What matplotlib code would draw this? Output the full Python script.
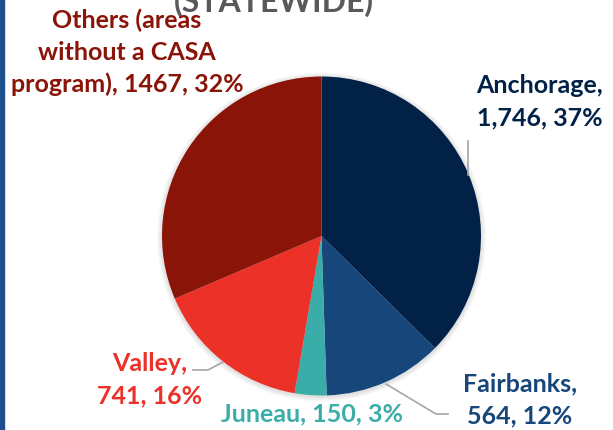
import matplotlib.pyplot as plt
from matplotlib.patches import Rectangle, Circle

# data
regions = ['Anchorage', 'Fairbanks', 'Juneau', 'Valley', 'Others']
counts = [1746, 564, 150, 741, 1467]
labels = ['Anchorage,\n1,746, 37%', 'Fairbanks,\n564, 12%', 'Juneau, 150, 3%',
          'Valley,\n741, 16%', 'Others (areas\nwithout a CASA\nprogram), 1467, 32%']
colors = ['#012147', '#17467B', '#3AADA8', '#EB3128', '#8A1408']

W, H = 613, 430
fig = plt.figure(figsize=(W / 100, H / 100), dpi=100)
ax = fig.add_axes([0, 0, 1, 1])

cx, cy, r = 321.5, H - 236, 159.5

# soft shadow round the pie
for i in range(1, 6):
    ax.add_patch(Circle((cx, cy - 1), r + i, color='black', alpha=0.025, lw=0))

ax.pie(counts, colors=colors, startangle=90, counterclock=False,
       center=(cx, cy), radius=r, frame=True,
       wedgeprops=dict(linewidth=0))
ax.set_xlim(0, W)
ax.set_ylim(0, H)
ax.set_aspect('equal')
ax.axis('off')

# left border strip
ax.add_patch(Rectangle((0, 0), 4, H, color='#1F4E8C', clip_on=False))

# title (cut off at the top, as in the source)
ax.text(274, H - 12, '(STATEWIDE)', ha='center', va='baseline',
        fontsize=23, fontweight='bold', color='#595959', family='Lato')

font = dict(fontsize=18, fontweight='bold', family='Lato', linespacing=1.45)
# (x centre, baseline of last line) in pixels from top-left
pos = {0: (540, 125), 1: (520, 423), 2: (312, 421), 3: (150, 403), 4: (127, 92)}
for i, (x, y) in pos.items():
    ax.text(x, H - y, labels[i], ha='center', va='baseline', color=colors[i], **font)

# leader lines
lc = '#A6A6A6'
ax.plot([468, 468], [H - 141, H - 175], color=lc, lw=1.2)
ax.plot([386, 436, 448], [H - 384, H - 414, H - 414], color=lc, lw=1.2)
ax.plot([223, 208, 193], [H - 362, H - 370, H - 370], color=lc, lw=1.2)

fig.savefig('out.png', dpi=100)
